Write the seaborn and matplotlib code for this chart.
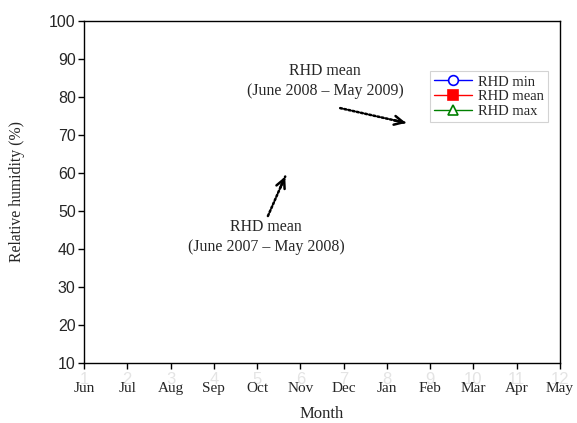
import matplotlib
matplotlib.use("Agg")
import matplotlib.pyplot as plt
import matplotlib.transforms as mtransforms
import numpy as np
import seaborn as sns

# Month positions and labels (hydrological year June -> May)
month_index = [1, 2, 3, 4, 5, 6, 7, 8, 9, 10, 11, 12]
month_labels = ["Jun", "Jul", "Aug", "Sep", "Oct", "Nov", "Dec",
                "Jan", "Feb", "Mar", "Apr", "May"]
y_ticks = [10, 20, 30, 40, 50, 60, 70, 80, 90, 100]

# Series shown in the legend (no plotted values)
series_names = ["RHD min", "RHD mean", "RHD max"]
rhd_min = []
rhd_mean = []
rhd_max = []

# Annotations: (text, text position, arrow tail, arrow tip)
note_labels = ["RHD mean\n(June 2007 \u2013 May 2008)",
               "RHD mean\n(June 2008 \u2013 May 2009)"]
note_text_xy = [(5.21, 43.1), (6.57, 84.2)]
note_tail_xy = [(5.25, 48.6), (6.92, 77.0)]
note_tip_xy = [(5.65, 59.0), (8.44, 73.1)]

sns.set_theme(style="ticks")
plt.rcParams["font.family"] = ["Liberation Serif", "DejaVu Serif"]

fig = plt.figure(figsize=(5.77, 4.23), dpi=100)
ax = fig.add_axes([84 / 577, (423 - 362.7) / 423, 476 / 577, 342 / 423])

styles = [
    dict(color="blue", marker="o", markerfacecolor="white", markeredgecolor="blue"),
    dict(color="red", marker="s", markerfacecolor="red", markeredgecolor="red"),
    dict(color="green", marker="^", markerfacecolor="white", markeredgecolor="green"),
]
for name, values, st in zip(series_names, [rhd_min, rhd_mean, rhd_max], styles):
    ax.plot(month_index[:len(values)], values, label=name, lw=1,
            markersize=7, markeredgewidth=1.2, **st)

ax.set_xlim(1, 12)
ax.set_ylim(10, 100)
ax.set_xticks(month_index)
ax.set_xticklabels(month_labels, fontsize=11, family=["Liberation Serif"])
ax.set_yticks(y_ticks)
ax.set_yticklabels([str(v) for v in y_ticks], fontsize=11.5,
                   family=["Liberation Sans"])
ax.tick_params(axis="both", direction="out", length=4, width=1, color="black",
               pad=2)
ax.tick_params(axis="x", pad=10)
for sp in ax.spines.values():
    sp.set_visible(True)
    sp.set_color("black")
    sp.set_linewidth(1)

# faint numeric month index behind the month names
trans = mtransforms.blended_transform_factory(ax.transData, ax.transAxes)
for m in month_index:
    ax.text(m, -0.048, str(m), transform=trans, ha="center", va="center",
            fontsize=12, color="#e4e4e4", family=["Liberation Sans"], zorder=0,
            clip_on=False)

ax.set_xlabel("Month", fontsize=12)
ax.xaxis.set_label_coords(0.5, -0.128)
ax.set_ylabel("Relative humidity (%)", fontsize=11.3)
ax.yaxis.set_label_coords(-0.124, 0.5)

# notes with dotted arrows and solid arrowheads
fig.canvas.draw()
for txt, txy, tail, tip in zip(note_labels, note_text_xy, note_tail_xy, note_tip_xy):
    ax.text(txy[0], txy[1], txt, ha="center", va="center", fontsize=11.4,
            linespacing=1.3)
    ax.annotate("", xy=tip, xytext=tail,
                arrowprops=dict(arrowstyle="-", lw=1.8, linestyle=(0, (0.8, 0.9)),
                                color="black", shrinkA=0, shrinkB=0))
    p_tail = ax.transData.transform(tail)
    p_tip = ax.transData.transform(tip)
    d = (p_tip - p_tail) / np.hypot(*(p_tip - p_tail))
    head_base = ax.transData.inverted().transform(p_tip - d * 12)
    ax.annotate("", xy=tip, xytext=tuple(head_base),
                arrowprops=dict(arrowstyle="->", lw=1.8, color="black",
                                mutation_scale=16, shrinkA=0, shrinkB=0))

leg = ax.legend(loc="upper right", bbox_to_anchor=(0.975, 0.853), fontsize=10.5,
                frameon=True, fancybox=False, handlelength=2.6,
                borderpad=0.3, labelspacing=0.1, handletextpad=0.4,
                borderaxespad=0)
leg.get_frame().set_edgecolor("#c8c8c8")
leg.get_frame().set_linewidth(0.8)

fig.savefig("out.png", dpi=100)
